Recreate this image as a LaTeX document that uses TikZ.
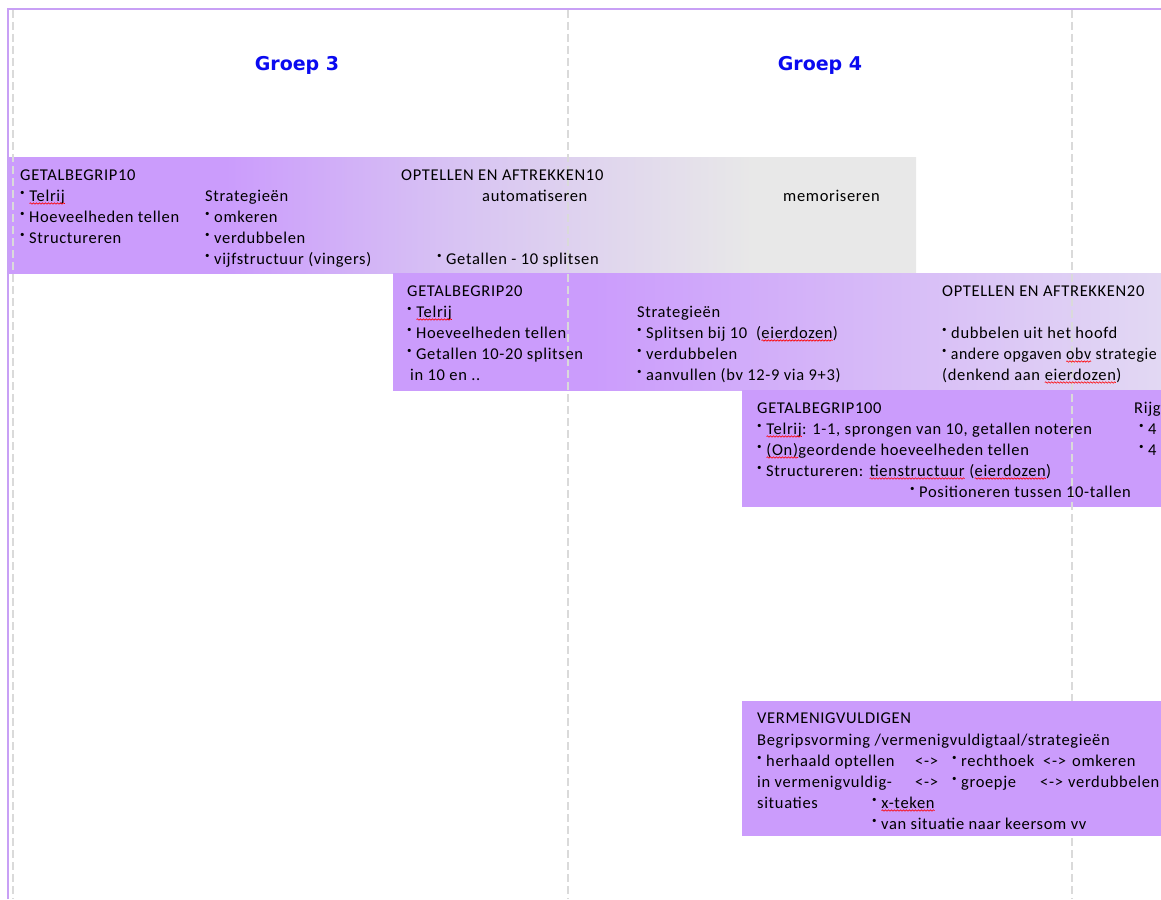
\documentclass[tikz,border=0pt]{standalone}
\usepackage{fontspec}
\setmainfont{Carlito}[LetterSpace=4]
\newfontfamily\groepfont{DejaVu Sans}
\usetikzlibrary{decorations.pathmorphing}

\definecolor{paars}{RGB}{203,156,252}
\definecolor{lila}{RGB}{216,196,243}
\definecolor{lilalicht}{RGB}{226,216,243}
\definecolor{grijs}{RGB}{232,232,232}
\definecolor{rand}{RGB}{200,160,245}
\definecolor{streep}{RGB}{218,218,218}
\definecolor{groepblauw}{RGB}{10,10,240}

\pgfdeclarehorizontalshading{blokeen}{100bp}{color(0bp)=(paars); color(25bp)=(paars); color(37bp)=(paars); color(50bp)=(lila); color(66bp)=(grijs); color(75bp)=(grijs); color(100bp)=(grijs)}
\pgfdeclarehorizontalshading{bloktwee}{100bp}{color(0bp)=(paars); color(25bp)=(paars); color(38bp)=(paars); color(75bp)=(lilalicht); color(100bp)=(lilalicht)}

\newcommand{\bul}{\raisebox{.65ex}{\fontsize{9}{9}\selectfont\textbullet}\hspace{4.5pt}}
\newcommand{\sq}[1]{\tikz[baseline=(w.base)]{\node[inner sep=0pt,outer sep=0pt,anchor=base] (w) {#1}; \draw[red,line width=.6pt,decorate,decoration={snake,amplitude=.7pt,segment length=3pt}] ([yshift=-2.5pt]w.base west) -- ([yshift=-2.5pt]w.base east);}}

\begin{document}
\begin{tikzpicture}[x=1pt,y=-1pt,
  txt/.style={anchor=base west,inner sep=0pt,font=\fontsize{16.5}{19}\selectfont},
  groep/.style={text=groepblauw,font=\groepfont\bfseries\fontsize{19}{22}\selectfont},
  lijn/.style={streep,line width=1.2pt,dash pattern=on 8pt off 4pt}]
\useasboundingbox (0,0) rectangle (1161,899);
\fill[white] (0,0) rectangle (1161,899);

\shade[shading=blokeen] (8,157) rectangle (916,273);
\shade[shading=bloktwee] (393,273) rectangle (1161,390);
\fill[paars] (742,390) rectangle (1161,507);

\draw[lijn] (13,10) -- (13,899);
\draw[lijn] (568,10) -- (568,899);
\draw[lijn] (1072,10) -- (1072,899);

\fill[paars] (742,701) rectangle (1161,836);
\draw[rand,line width=2pt] (8,899) -- (8,9) -- (1161,9);

\node[groep] (groep3) at (297,65) {Groep 3};
\node[groep] (groep4) at (820,65) {Groep 4};

\node[txt] (gb10) at (20,180) {GETALBEGRIP10};
\node[txt] (gb10a) at (20,201) {\bul\sq{Telrij}};
\node[txt] (gb10b) at (20,222) {\bul Hoeveelheden tellen};
\node[txt] (gb10c) at (20,243) {\bul Structureren};
\node[txt] (st10) at (205,201) {Strategieën};
\node[txt] (st10a) at (205,222) {\bul omkeren};
\node[txt] (st10b) at (205,243) {\bul verdubbelen};
\node[txt] (st10c) at (205,264) {\bul vijfstructuur (vingers)};
\node[txt] (oa10) at (401,180) {OPTELLEN EN AFTREKKEN10};
\node[txt] (oa10a) at (482,201) {automatiseren};
\node[txt] (oa10b) at (783,201) {memoriseren};
\node[txt] (oa10c) at (437,264) {\bul Getallen - 10 splitsen};

\node[txt] (gb20) at (407,296) {GETALBEGRIP20};
\node[txt] (gb20a) at (407,317) {\bul\sq{Telrij}};
\node[txt] (gb20b) at (407,338) {\bul Hoeveelheden tellen};
\node[txt] (gb20c) at (407,359) {\bul Getallen 10-20 splitsen};
\node[txt] (gb20d) at (410,380) {in 10 en ..};
\node[txt] (st20) at (637,317) {Strategieën};
\node[txt] (st20a) at (637,338) {\bul Splitsen bij 10 \ (\sq{eierdozen})};
\node[txt] (st20b) at (637,359) {\bul verdubbelen};
\node[txt] (st20c) at (637,380) {\bul aanvullen (bv 12-9 via 9+3)};
\node[txt] (oa20) at (942,296) {OPTELLEN EN AFTREKKEN20};
\node[txt] (oa20a) at (942,338) {\bul dubbelen uit het hoofd};
\node[txt] (oa20b) at (942,359) {\scalebox{0.96}[1]{\bul andere opgaven \sq{obv} strategie}};
\node[txt] (oa20c) at (942,380) {(denkend aan \sq{eierdozen})};

\node[txt] (gb100) at (757,413) {GETALBEGRIP100};
\node[txt] (gb100a) at (757,434) {\bul\sq{Telrij}: 1-1, sprongen van 10, getallen noteren};
\node[txt] (gb100b) at (757,455) {\bul\sq{(On)}geordende hoeveelheden tellen};
\node[txt] (gb100c) at (757,476) {\bul Structureren: \sq{tienstructuur} (\sq{eierdozen})};
\node[txt] (gb100d) at (910,497) {\bul Positioneren tussen 10-tallen};
\node[txt] (rij) at (1134,413) {Rijg};
\node[txt] (rija) at (1139,434) {\bul 4};
\node[txt] (rijb) at (1139,455) {\bul 4};

\node[txt] (verm) at (757,723) {VERMENIGVULDIGEN};
\node[txt] (verma) at (757,745) {Begripsvorming /vermenigvuldigtaal/strategieën};
\node[txt] (vermb) at (757,766) {\bul herhaald optellen};
\node[txt] (vermb1) at (915,766) {<->};
\node[txt] (vermb2) at (952,766) {\bul rechthoek};
\node[txt] (vermb3) at (1043,766) {<->};
\node[txt] (vermb4) at (1072,766) {omkeren};
\node[txt] (vermc) at (757,787) {in vermenigvuldig-};
\node[txt] (vermc1) at (915,787) {<->};
\node[txt] (vermc2) at (952,787) {\bul groepje};
\node[txt] (vermc3) at (1040,787) {<->};
\node[txt] (vermc4) at (1068,787) {verdubbelen};
\node[txt] (vermd) at (757,808) {situaties};
\node[txt] (vermd1) at (872,808) {\bul\sq{x-teken}};
\node[txt] (verme) at (872,829) {\bul van situatie naar keersom vv};
\end{tikzpicture}
\end{document}
